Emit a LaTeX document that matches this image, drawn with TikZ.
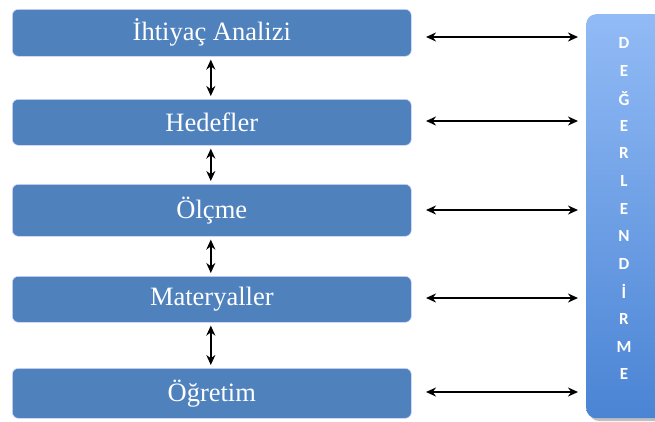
\documentclass[tikz,border=0pt]{standalone}
\usepackage{fontspec}
\setmainfont{Liberation Serif}
\newfontfamily\calfont{Carlito}
\usetikzlibrary{arrows.meta,shadows}
\begin{document}
\begin{tikzpicture}[x=1pt,y=-1pt,
  stagebox/.style={draw=white!85!blue,line width=0.6pt,fill={rgb,255:red,79;green,129;blue,189},rounded corners=6pt,
    minimum width=399pt,anchor=north west,inner sep=0pt,text=white,font=\fontsize{26.5}{30}\selectfont},
  link/.style={line width=2.4pt,{Stealth[length=10pt,width=9pt]}-{Stealth[length=10pt,width=9pt]}},
  letter/.style={text=white,font=\calfont\bfseries\fontsize{17}{20}\selectfont,inner sep=0pt}]
\useasboundingbox (0,0) rectangle (655,421);
\definecolor{evtop}{RGB}{146,187,246}
\definecolor{evbot}{RGB}{74,132,212}
\begin{scope}
\clip (0,0) rectangle (655,421);
\fill[black!25,rounded corners=10pt] (589,17) rectangle (680,421);
\node[draw=none,top color=evtop,bottom color=evbot,rounded corners=10pt,minimum width=90pt,minimum height=404pt,anchor=north west,inner sep=0pt] (ev) at (586,14) {};
\end{scope}
\node[stagebox,minimum height=47pt] (b1) at (12,9) {İhtiyaç Analizi};
\node[stagebox,minimum height=46pt] (b2) at (12,99) {Hedefler};
\node[stagebox,minimum height=52pt] (b3) at (12,184) {Ölçme};
\node[stagebox,minimum height=46pt] (b4) at (12,276) {Materyaller};
\node[stagebox,minimum height=50pt] (b5) at (12,368) {Öğretim};
\foreach \a/\b in {b1/b2,b2/b3,b3/b4,b4/b5}{
  \draw[link] ([xshift=-1pt,yshift=-3pt]\a.south) -- ([xshift=-1pt,yshift=3pt]\b.north);
}
\foreach \n/\y in {1/37,2/121,3/210,4/298,5/392}{
  \coordinate (l\n) at (426,\y);
  \coordinate (r\n) at (578,\y);
  \draw[link] (l\n) -- (r\n);
}
\foreach \t [count=\i] in {D,E,Ğ,E,R,L,E,N,D,İ,R,M,E}{
  \node[letter] (t\i) at (624,{43+27.6*(\i-1)}) {\t};
}
\end{tikzpicture}
\end{document}
